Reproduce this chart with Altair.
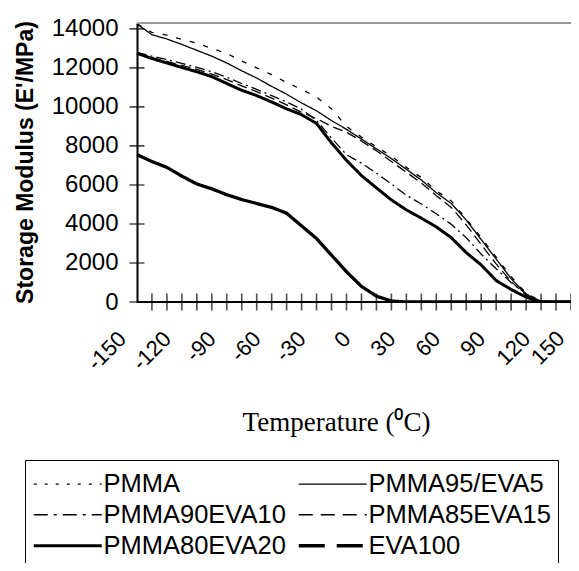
import altair as alt
import pandas as pd

temps = list(range(-140, 151, 10))
series_names = ["PMMA", "PMMA95/EVA5", "PMMA90EVA10", "PMMA85EVA15", "PMMA80EVA20", "EVA100"]

pmma = [14250, 13820, 13680, 13460, 13260, 13000, 12740, 12350, 12000, 11650,
        11250, 10900, 10500, 9900, 9000, 8450, 7950, 7480, 6900, 6380,
        5700, 5180, 4250, 3300, 2300, 1300, 450, 50, 0, 0]
pmma95 = [14250, 13700, 13480, 13200, 12900, 12600, 12250, 11850, 11480, 11050,
          10650, 10200, 9800, 9300, 8850, 8350, 7850, 7350, 6800, 6250,
          5600, 5050, 4200, 3200, 2200, 1200, 400, 30, 0, 0]
pmma90 = [12800, 12600, 12420, 12230, 12030, 11800, 11520, 11200, 10900, 10580,
          10250, 9880, 9300, 8400, 7550, 7120, 6600, 6050, 5470, 5020,
          4520, 3980, 3300, 2450, 1700, 1000, 420, 0, 0, 0]
pmma85 = [12700, 12520, 12330, 12130, 11920, 11680, 11400, 11080, 10780, 10450,
          10100, 9720, 9400, 9000, 8700, 8250, 7750, 7200, 6650, 6100,
          5450, 4850, 3950, 2950, 1950, 1050, 350, 0, 0, 0]
pmma80 = [12750, 12480, 12250, 12020, 11800, 11550, 11200, 10850, 10580, 10250,
          9900, 9600, 9150, 8150, 7260, 6480, 5850, 5230, 4720, 4300,
          3850, 3300, 2530, 1900, 1100, 640, 250, 0, 0, 0]
eva100 = [7550, 7200, 6900, 6450, 6050, 5800, 5500, 5250, 5050, 4850,
          4550, 3900, 3250, 2400, 1550, 800, 300, 50, 0, 0,
          0, 0, 0, 0, 0, 0, 0, 0, 0, 0]

x_labels = [-150, -120, -90, -60, -30, 0, 30, 60, 90, 120, 150]
x_minor = list(range(-130, 151, 10))
y_ticks = list(range(0, 14001, 2000))

plot_dashes = [[5, 9], [1, 0], [10, 4, 2, 4], [10, 5], [1, 0], [1, 0]]
legend_dashes = [[3, 8], [1, 0], [14, 6, 3, 6], [14, 8], [1, 0], [26, 12]]
widths = [1.3, 1.3, 1.3, 1.3, 3, 3.3]

rows = []
for name, vals in zip(series_names, [pmma, pmma95, pmma90, pmma85, pmma80, eva100]):
    for t, v in zip(temps, vals):
        rows.append({"T": t, "E": v, "series": name})
df = pd.DataFrame(rows)

x_end = 150
xscale = alt.Scale(domain=[-150, x_end], nice=False, zero=False)
yscale = alt.Scale(domain=[0, 14300], nice=False, zero=False)

lines = alt.Chart(df).mark_line(color="black", clip=True).encode(
    x=alt.X("T:Q", scale=xscale, axis=alt.Axis(
        values=x_labels[:-1], tickCount=30, ticks=False, tickSize=0, domain=False, grid=False,
        labelAngle=-45, labelAlign="right", labelBaseline="middle", labelOverlap=False,
        labelExpr="toString(datum.value)",
        labelPadding=33, labelFontSize=22, labelFont="Liberation Sans", labelColor="black",
        title="Temperature (\u2070C)", titleFont="Liberation Serif", titleFontSize=27,
        titleFontWeight="normal", titleColor="black", titleX=214, titleY=120,
        titleBaseline="middle")),
    y=alt.Y("E:Q", scale=yscale, axis=alt.Axis(
        values=y_ticks, tickCount=20, ticks=False, tickSize=0, grid=False, domainColor="black",
        domainWidth=2, labelFontSize=24, labelFont="Liberation Sans", labelColor="black",
        labelOverlap=False, labelExpr="toString(datum.value)",
        labelPadding=19, offset=-15,
        title="Storage Modulus (E'/MPa)", titleFont="Liberation Sans", titleFontSize=23,
        titleFontWeight="bold", titleColor="black", titleX=-112, titleY=139,
        titleBaseline="middle", titleAngle=-90)),
    strokeDash=alt.StrokeDash("series:O", scale=alt.Scale(domain=series_names, range=plot_dashes), legend=None),
    strokeWidth=alt.StrokeWidth("series:O", scale=alt.Scale(type="ordinal", domain=series_names, range=widths), legend=None),
)

leg = alt.Legend(title=" ", titleFontSize=1, titlePadding=3, orient="none",
                 legendX=-97, legendY=437, columns=2, direction="horizontal",
                 strokeColor="black", padding=7, labelFontSize=25.5, labelFont="Liberation Sans",
                 labelColor="black", labelLimit=0, symbolSize=185, symbolType="M-5,0H5",
                 symbolOffset=23, symbolStrokeColor="black", columnPadding=6, rowPadding=4,
                 labelOffset=23)

legend_layer = alt.Chart(df).transform_filter("false").mark_line(color="black").encode(
    x="T:Q",
    y="E:Q",
    strokeDash=alt.StrokeDash("series:O", scale=alt.Scale(domain=series_names, range=legend_dashes), legend=leg),
    strokeWidth=alt.StrokeWidth("series:O", scale=alt.Scale(type="ordinal", domain=series_names, range=widths), legend=leg),
)

frame_df = pd.DataFrame({"T": [-140], "T2": [x_end], "top": [14300], "zero": [0]})
top_rule = alt.Chart(frame_df).mark_rule(color="#9a9a9a", strokeWidth=2).encode(
    x="T:Q", x2="T2:Q", y="top:Q")
base_rule = alt.Chart(frame_df).mark_rule(color="black", strokeWidth=2).encode(
    x="T:Q", x2="T2:Q", y="zero:Q")

xt_df = pd.DataFrame({"T": x_minor})
xticks = alt.Chart(xt_df).mark_tick(orient="vertical", size=17, thickness=1.6, color="black").encode(
    x="T:Q", y=alt.YDatum(0))
yt_df = pd.DataFrame({"E": y_ticks})
yticks = alt.Chart(yt_df).mark_tick(orient="horizontal", size=15, thickness=1.6, color="black").encode(
    x=alt.XDatum(-140), y="E:Q")

# last x label (at the right edge), drawn as text through the x scale so it stays inside the page
last_df = pd.DataFrame({"T": x_labels[-1:]})
last_label = alt.Chart(last_df).mark_text(
    angle=315, align="right", baseline="middle", xOffset=-10, yOffset=33,
    fontSize=22, font="Liberation Sans", color="black"
).encode(x="T:Q", y=alt.YDatum(0), text=alt.Text("T:Q", format="d"))

chart = alt.layer(lines, legend_layer, top_rule, base_rule, xticks, yticks, last_label).resolve_scale(
    strokeDash="independent", strokeWidth="independent"
).properties(
    width=449, height=279,
    padding={"left": 114, "top": 15, "right": 0, "bottom": 261},
    autosize=alt.AutoSizeParams(type="none"),
).configure_view(stroke=None)

chart.save("out.html", embed_options={"renderer": "svg", "actions": False})
